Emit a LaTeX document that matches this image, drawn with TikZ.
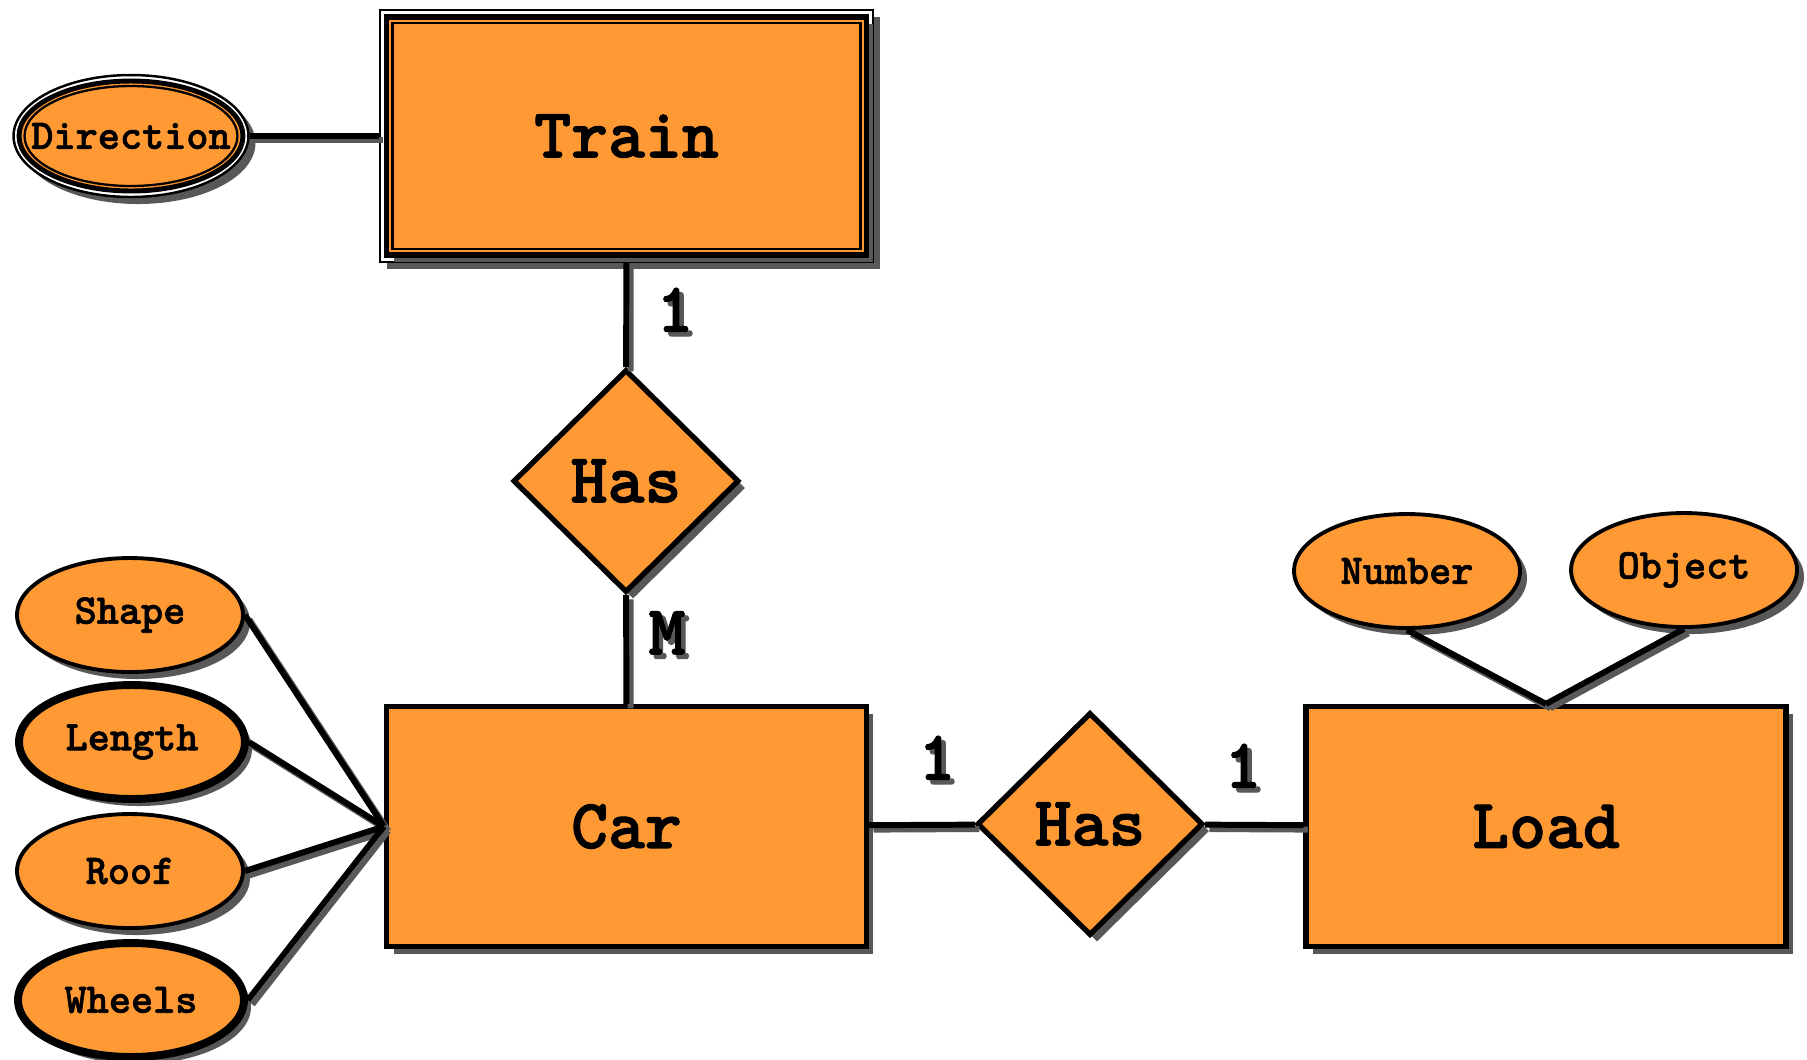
\documentclass[tikz,border=0pt]{standalone}
\usepackage{fontspec}
\newfontfamily\ermono{lmmonolt10-bold.otf}[FakeBold=1.5]
\usetikzlibrary{shapes.geometric,shadows}
\definecolor{erorange}{RGB}{255,153,51}
\definecolor{ershadow}{RGB}{88,88,88}
\newcommand{\attrname}[1]{\makebox[0pt]{#1}}
\newcommand{\shadowed}[1]{\makebox[0pt][l]{\hspace{2.5pt}\raisebox{-2.5pt}{\color{ershadow}#1}}#1}
\tikzset{
  dropshade/.style={drop shadow={shadow xshift=4pt,shadow yshift=-4pt,fill=ershadow,opacity=1}},
  bigtext/.style={font=\fontsize{40}{44}\selectfont\ermono},
  smalltext/.style={font=\fontsize{24}{28}\selectfont\ermono},
  entity/.style={rectangle,draw,line width=3pt,fill=erorange,dropshade,bigtext,
    minimum width=9.6cm,minimum height=4.8cm},
  relation/.style={diamond,aspect=1,draw,line width=3pt,fill=erorange,dropshade,bigtext,
    inner sep=0pt,minimum width=4.52cm,minimum height=4.46cm},
  attr/.style={ellipse,draw,line width=2.2pt,fill=erorange,dropshade,inner sep=0pt,
    minimum width=4.52cm,minimum height=2.28cm,smalltext},
  keyattr/.style={attr,line width=4.5pt},
  link/.style={line width=3.4pt,preaction={draw=ershadow,line width=3.4pt,transform canvas={shift={(2.5pt,-2.5pt)}}}},
  card/.style={bigtext,inner sep=0pt}
}
\begin{document}
\begin{tikzpicture}[x=0.02cm,y=-0.02cm]
  \useasboundingbox (0,0) rectangle (1807,1059);
  % weak entity Train with its multivalued attribute
  \node[rectangle,draw,line width=1.4pt,fill=white,dropshade,minimum width=9.86cm,minimum height=5.04cm] (trainouter) at (626.5,136) {};
  \node[entity,drop shadow={opacity=0},minimum height=4.76cm] (train) at (626.5,136) {Train};
  \node[rectangle,draw,line width=1.3pt,minimum width=9.36cm,minimum height=4.52cm] (traininner) at (626.5,136) {};
  \node[ellipse,draw,line width=1.4pt,fill=white,dropshade,minimum width=4.7cm,minimum height=2.44cm] (dirouter) at (131,136) {};
  \node[ellipse,draw,line width=2.8pt,fill=erorange,minimum width=4.48cm,minimum height=2.2cm] (dir) at (131,136) {};
  \node[ellipse,draw,line width=1.3pt,inner sep=0pt,minimum width=4.26cm,minimum height=2cm,
    smalltext] (dirinner) at (131,136) {\attrname{Direction}};

  \node[relation] (hastc) at (626,481) {Has};
  \node[entity] (car) at (626.5,826.5) {Car};
  \node[relation] (hascl) at (1090,824) {Has};
  \node[entity] (load) at (1546,826.5) {Load};

  \node[attr] (shape) at (130,615) {\attrname{Shape}};
  \node[keyattr] (length) at (132,742) {\attrname{Length}};
  \node[attr] (roof) at (130,871) {\attrname{Roof}};
  \node[keyattr] (wheels) at (131,1000) {\attrname{Wheels}};
  \node[attr] (number) at (1407,571) {\attrname{Number}};
  \node[attr] (object) at (1684,570) {\attrname{Object}};

  \draw[link] (dirouter.east) -- (trainouter.west);
  \draw[link] (trainouter) -- (hastc);
  \draw[link] (hastc) -- (car);
  \draw[link] (car) -- (hascl);
  \draw[link] (hascl) -- (load);
  \foreach \a in {shape,length,roof,wheels}
    \draw[link] (\a.east) -- (car.west);
  \draw[link] (number.south) -- (load.north);
  \draw[link] (object.south) -- (load.north);

  \node[card] (cardtc) at (675,312) {\shadowed{1}};
  \node[card] (cardct) at (667,635) {\shadowed{M}};
  \node[card] (cardcl) at (937,760) {\shadowed{1}};
  \node[card] (cardlc) at (1243,768) {\shadowed{1}};
\end{tikzpicture}
\end{document}
